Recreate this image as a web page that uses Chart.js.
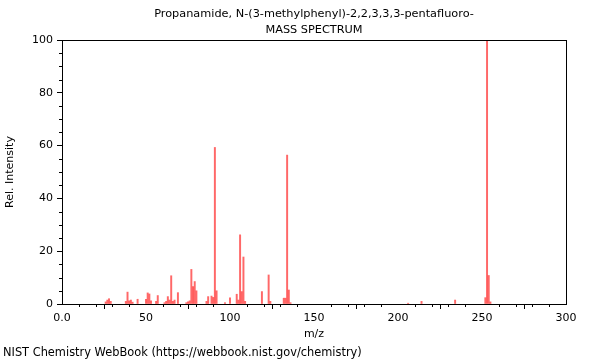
<!DOCTYPE html>
<html>
<head>
<meta charset="utf-8">
<script src="https://cdn.jsdelivr.net/npm/chart.js@4/dist/chart.umd.min.js"></script>
<style>
html,body{margin:0;padding:0;background:#fff;}
#wrap{position:relative;width:600px;height:360px;}
</style>
</head>
<body>
<div id="wrap"><canvas id="c" width="600" height="360"></canvas></div>
<script>
const titleLines = ["Propanamide, N-(3-methylphenyl)-2,2,3,3,3-pentafluoro-", "MASS SPECTRUM"];
const footerText = "NIST Chemistry WebBook (https://webbook.nist.gov/chemistry)";
const xAxisTitle = "m/z";
const yAxisTitle = "Rel. Intensity";

const mz = [26, 27, 28, 29, 38, 39, 40, 41, 42, 45, 50, 51, 52, 53, 56, 57, 61, 62, 63, 64, 65, 66, 67, 69,
            74, 75, 76, 77, 78, 79, 80, 86, 87, 89, 90, 91, 92, 97, 100, 104, 105, 106, 107, 108, 109,
            119, 123, 124, 132, 133, 134, 135, 136, 206, 214, 234, 252, 253, 254, 255];
const intensity = [0.8, 1.5, 2.0, 1.0, 1.0, 4.5, 1.2, 1.5, 0.7, 1.8, 1.8, 4.2, 3.8, 1.2, 1.0, 3.2, 0.5, 1.0, 2.8, 1.5, 10.7, 1.0, 1.5, 4.3,
            0.5, 0.8, 1.2, 13.1, 6.6, 8.5, 5.0, 1.0, 2.8, 3.0, 2.5, 59.3, 5.0, 0.5, 2.3, 3.7, 1.5, 26.2, 4.7, 17.8, 1.0,
            4.7, 11.0, 1.0, 2.2, 2.2, 56.4, 5.3, 0.5, 0.3, 1.0, 1.5, 2.4, 100, 10.8, 0.8];

const xMajorTicks = [0, 50, 100, 150, 200, 250, 300];
const xTickLabels = ["0.0", "50", "100", "150", "200", "250", "300"];
const yMajorTicks = [0, 20, 40, 60, 80, 100];

const FONT = "DejaVu Sans";

const extras = {
  id: 'extras',
  afterDraw(chart) {
    const ctx = chart.ctx;
    const a = chart.chartArea;
    const xs = chart.scales.x, ys = chart.scales.y;
    ctx.save();
    ctx.strokeStyle = '#000';
    ctx.lineWidth = 1;
    ctx.strokeRect(Math.round(a.left) + 0.5, Math.round(a.top) + 0.5, Math.round(a.right - a.left), Math.round(a.bottom - a.top));
    ctx.beginPath();
    for (let v = 0; v <= 300; v += 10) {
      if (v % 50 === 0) continue;
      const px = Math.round(xs.getPixelForValue(v)) + 0.5;
      ctx.moveTo(px, a.bottom);
      ctx.lineTo(px, a.bottom + 3);
    }
    for (let v = 0; v <= 100; v += 5) {
      if (v % 20 === 0) continue;
      const py = Math.round(ys.getPixelForValue(v)) + 0.5;
      ctx.moveTo(a.left, py);
      ctx.lineTo(a.left - 3, py);
    }
    ctx.stroke();
    ctx.fillStyle = '#000';
    ctx.font = '11.3px "' + FONT + '"';
    ctx.textAlign = 'center';
    ctx.textBaseline = 'middle';
    const cx = (a.left + a.right) / 2;
    ctx.fillText(titleLines[0], cx, 14);
    ctx.fillText(titleLines[1], cx, 30);
    ctx.textAlign = 'left';
    ctx.font = '11.4px "' + FONT + '"';
    ctx.fillText(footerText, 3, 353);
    ctx.restore();
  }
};

new Chart(document.getElementById('c'), {
  type: 'bar',
  data: {
    datasets: [{
      data: mz.map((m, i) => ({x: m, y: intensity[i]})),
      backgroundColor: 'rgba(255,40,40,0.7)',
      borderWidth: 0,
      barThickness: 1.3,
      grouped: false
    }]
  },
  options: {
    responsive: false,
    animation: false,
    events: [],
    layout: {padding: {left: 0, right: 34, top: 40, bottom: 0}},
    plugins: {legend: {display: false}, tooltip: {enabled: false}, title: {display: false}},
    scales: {
      x: {
        type: 'linear', min: 0, max: 300, offset: false,
        afterBuildTicks(scale) { scale.ticks = xMajorTicks.map(v => ({value: v})); },
        afterFit(scale) { scale.height = 56; },
        ticks: {
          color: '#000', padding: 3, maxRotation: 0, autoSkip: false,
          font: {family: FONT, size: 11},
          callback: (v) => xTickLabels[xMajorTicks.indexOf(v)]
        },
        grid: {drawOnChartArea: false, tickLength: 5, color: '#000', tickColor: '#000'},
        border: {display: true, color: '#000'},
        title: {display: true, text: xAxisTitle, color: '#000', font: {family: FONT, size: 11}, padding: {top: 0, bottom: 19}}
      },
      y: {
        type: 'linear', min: 0, max: 100,
        afterBuildTicks(scale) { scale.ticks = yMajorTicks.map(v => ({value: v})); },
        afterFit(scale) { scale.width = 62; },
        ticks: {color: '#000', padding: 4, font: {family: FONT, size: 11}},
        grid: {drawOnChartArea: false, tickLength: 5, color: '#000', tickColor: '#000'},
        border: {display: true, color: '#000'},
        title: {display: true, text: yAxisTitle, color: '#000', font: {family: FONT, size: 11}, padding: {top: 4, bottom: 0}}
      }
    }
  },
  plugins: [extras]
});
</script>
</body>
</html>
